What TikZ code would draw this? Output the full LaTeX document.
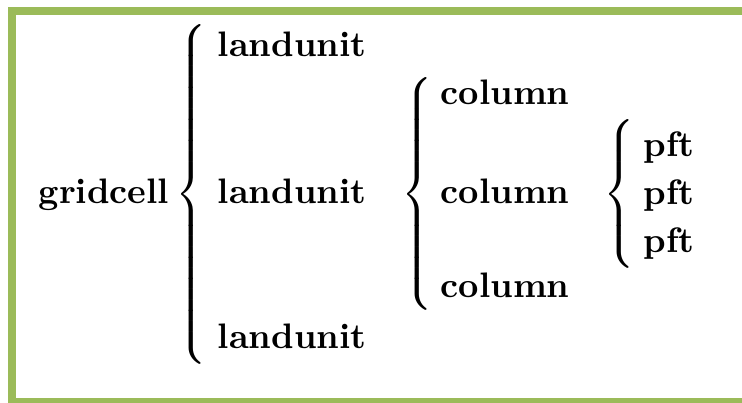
\documentclass[tikz,border=0pt]{standalone}
\definecolor{framegreen}{RGB}{155,187,89}
\delimiterfactor=1000
\delimitershortfall=0pt
\newcommand{\mybrace}[2]{$\left\{\vcenter{\hbox{\rule[-#2]{0pt}{#1}}}\right.$}
\begin{document}
\begin{tikzpicture}[x=0.2825pt,y=-0.2825pt,
  lbl/.style={anchor=base west,inner sep=0pt,font=\bfseries},
  brc/.style={anchor=west,inner sep=0pt}]
\useasboundingbox (0,0) rectangle (742,402);
\begin{scope}
\clip (0,0) rectangle (742,402);
\draw[framegreen,line width=8*0.2825pt] (12,11) rectangle (770,402);
\end{scope}
\node[lbl] (g) at (38,203) {gridcell};
\node[brc] (b1) at (175,194) {\mybrace{95pt}{47.5pt}};
\node[lbl] (l1) at (217,57) {landunit};
\node[lbl] (l2) at (217,203) {landunit};
\node[lbl] (l3) at (217,348) {landunit};
\node[brc] (b2) at (401,194) {\mybrace{63pt}{31.5pt}};
\node[lbl] (c1) at (440,105) {column};
\node[lbl] (c2) at (440,203) {column};
\node[lbl] (c3) at (440,297) {column};
\node[brc] (b3) at (603,194) {\mybrace{37pt}{18.5pt}};
\node[lbl] (p1) at (643,156) {pft};
\node[lbl] (p2) at (643,204) {pft};
\node[lbl] (p3) at (643,252) {pft};
\end{tikzpicture}
\end{document}
